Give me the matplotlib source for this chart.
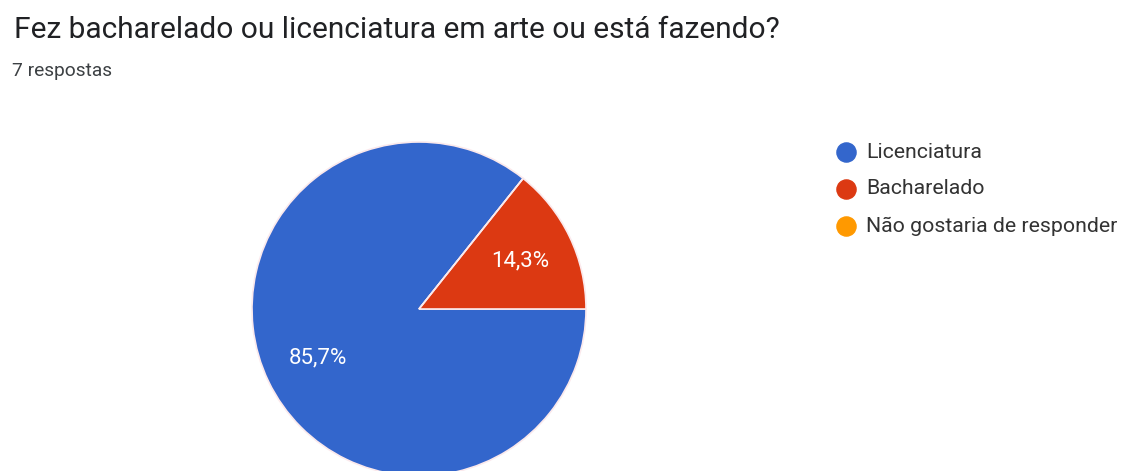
import matplotlib
matplotlib.use('Agg')
import matplotlib.pyplot as plt

# respostas do formulário
categorias = ['Licenciatura', 'Bacharelado', 'Não gostaria de responder']
respostas = [6, 1, 0]
cores = ['#3366cc', '#dc3912', '#ff9900']

titulo = 'Fez bacharelado ou licenciatura em arte ou está fazendo?'
subtitulo = '7 respostas'

W, H = 1135, 471
plt.rcParams['font.family'] = ['Roboto', 'DejaVu Sans']

fig = plt.figure(figsize=(W / 100, H / 100), dpi=100)
ax = fig.add_axes([0, 0, 1, 1])


def pct(p):
    if p < 0.05:
        return ''
    return f'{p:.1f}%'.replace('.', ',')


ax.pie(respostas, colors=cores, startangle=360 / 7, counterclock=True,
       center=(419, H - 309), radius=167, autopct=pct, pctdistance=0.67,
       wedgeprops=dict(edgecolor='#fbe9ec', linewidth=1.2),
       textprops=dict(color='white', fontsize=16))

ax.set_xlim(0, W)
ax.set_ylim(0, H)
ax.axis('off')

ax.text(14, H - 38, titulo, fontsize=21.5, color='#202124', va='baseline')
ax.text(12, H - 76, subtitulo, fontsize=13.8, color='#3c4043', va='baseline')

# legenda
for i, (nome, cor) in enumerate(zip(categorias, cores)):
    y = H - (152 + 37 * i)
    ax.scatter([846], [y], s=190, color=cor, zorder=3)
    ax.text(866, y, nome, fontsize=15.3, color='#333333', va='center')

fig.savefig('out.png', dpi=100)
